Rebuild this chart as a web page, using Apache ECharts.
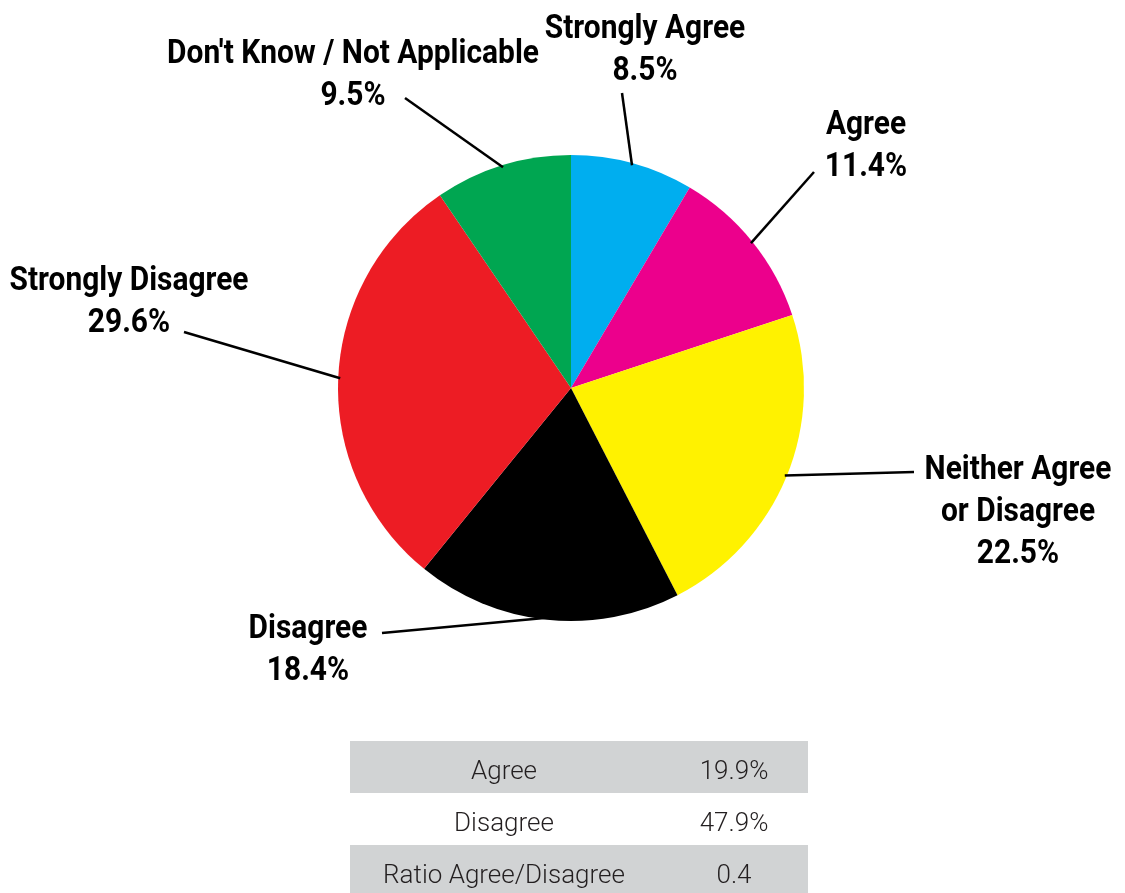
<!DOCTYPE html>
<html>
<head>
<meta charset="utf-8">
<script src="https://cdn.jsdelivr.net/npm/echarts@6/dist/echarts.min.js"></script>
<style>
  html, body { margin: 0; padding: 0; background: #ffffff; }
  #chart { width: 1125px; height: 893px; }
</style>
</head>
<body>
<div id="chart"></div>
<script>
// Survey responses, share of respondents (%)
const categories = [
  'Strongly Agree',
  'Agree',
  'Neither Agree\nor Disagree',
  'Disagree',
  'Strongly Disagree',
  "Don't Know / Not Applicable"
];
const shares = [8.5, 11.4, 22.5, 18.4, 29.6, 9.5];
const sliceColors = ['#00aeef', '#ec008c', '#fff200', '#000000', '#ed1c24', '#00a651'];

// Summary table below the pie
const summaryLabels = ['Agree', 'Disagree', 'Ratio Agree/Disagree'];
const summaryValues = ['19.9%', '47.9%', '0.4'];

// Label placement (text block centre) and where each leader line ends
const labelCenters = [
  [645, 50], [866, 146], [1018, 512], [308, 650], [129, 302], [353, 75]
];
const leaderEnds = [
  [622, 93], [814, 172], [914, 472], [382, 633], [184, 332], [405, 98]
];

const PIE_CENTER = [571, 388];
const PIE_RADIUS = 233;
const START_ANGLE = 90;

const chart = echarts.init(document.getElementById('chart'), null, { renderer: 'canvas' });

const graphics = [];

// Table rows
const tableLeft = 350, tableRight = 808, rowTop = 741, rowH = 52;
const colLabelX = 504, colValueX = 734;
const tableFont = '300 26px Roboto, "Liberation Sans", sans-serif';
summaryLabels.forEach((lab, i) => {
  const y = rowTop + i * rowH;
  if (i % 2 === 0) {
    graphics.push({
      type: 'rect', silent: true,
      shape: { x: tableLeft, y: y, width: tableRight - tableLeft, height: rowH },
      style: { fill: '#d1d3d4' }
    });
  }
  [[lab, colLabelX], [summaryValues[i], colValueX]].forEach(([txt, x]) => {
    graphics.push({
      type: 'text', silent: true, x: x, y: y + rowH / 2 + 5,
      style: { text: txt, fill: '#231f20', font: tableFont,
               textAlign: 'center', textVerticalAlign: 'middle' }
    });
  });
});

// Slice labels in a condensed bold face, with straight leader lines
// starting on the rim of each slice at its middle angle.
const total = shares.reduce((a, b) => a + b, 0);
let cum = 0;
shares.forEach((v, i) => {
  const midDeg = START_ANGLE - (cum + v / 2) / total * 360;
  cum += v;
  const rad = midDeg * Math.PI / 180;
  const start = [
    PIE_CENTER[0] + (PIE_RADIUS - 2) * Math.cos(rad),
    PIE_CENTER[1] - (PIE_RADIUS - 2) * Math.sin(rad)
  ];
  graphics.push({
    type: 'polyline', silent: true, z: 10,
    shape: { points: [start, leaderEnds[i]] },
    style: { stroke: '#000000', lineWidth: 2.5, fill: null }
  });
  graphics.push({
    type: 'text', silent: true, z: 10,
    x: labelCenters[i][0], y: labelCenters[i][1], scaleX: 0.88,
    style: {
      text: categories[i] + '\n' + v.toFixed(1) + '%',
      fill: '#000000',
      font: 'bold 34px Roboto, "Liberation Sans", sans-serif',
      lineHeight: 42,
      textAlign: 'center',
      textVerticalAlign: 'middle'
    }
  });
});

chart.setOption({
  animation: false,
  backgroundColor: '#ffffff',
  graphic: graphics,
  series: [{
    type: 'pie',
    center: PIE_CENTER,
    radius: PIE_RADIUS,
    startAngle: START_ANGLE,
    clockwise: true,
    itemStyle: { borderWidth: 0 },
    emphasis: { disabled: true },
    label: { show: false },
    labelLine: { show: false },
    data: categories.map((name, i) => ({
      name: name,
      value: shares[i],
      itemStyle: { color: sliceColors[i] }
    }))
  }]
});
</script>
</body>
</html>
